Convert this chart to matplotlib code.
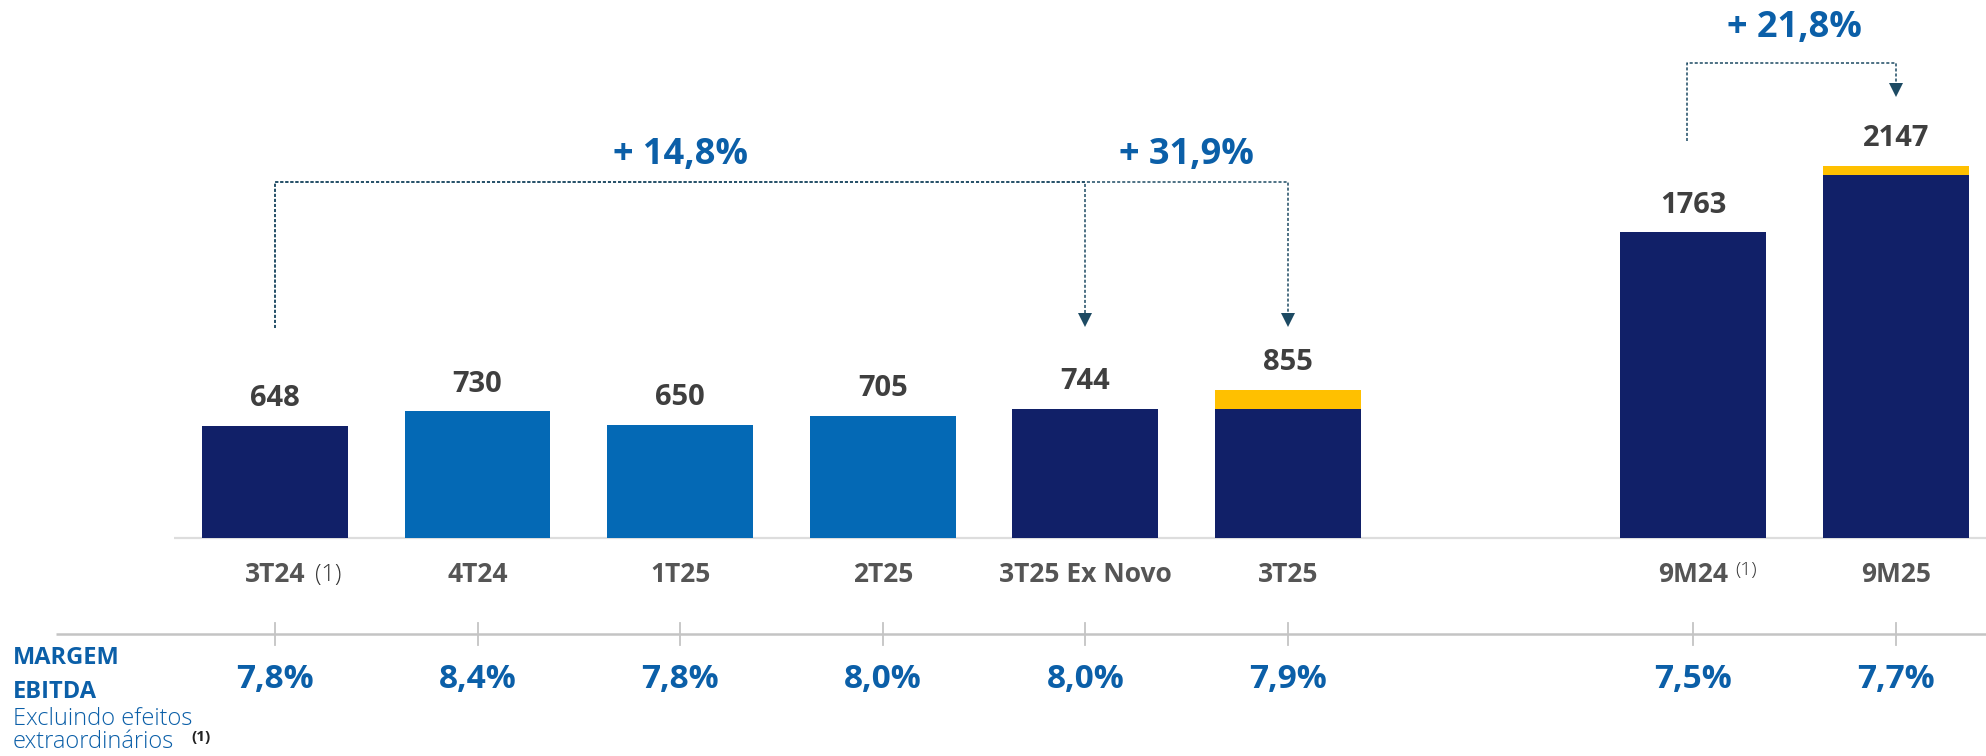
import numpy as np
import matplotlib.pyplot as plt
from matplotlib.transforms import blended_transform_factory

plt.rcParams['font.family'] = ['Open Sans', 'DejaVu Sans']

# EBITDA values
categories = ['3T24', '4T24', '1T25', '2T25', '3T25 Ex Novo', '3T25', '9M24', '9M25']
base_vals = [648, 730, 650, 705, 744, 744, 1763, 2095]
extra_vals = [0, 0, 0, 0, 0, 111, 0, 52]
total_labels = ['648', '730', '650', '705', '744', '855', '1763', '2147']
margins = ['7,8%', '8,4%', '7,8%', '8,0%', '8,0%', '7,9%', '7,5%', '7,7%']
growth = [('+ 14,8%', 0, 4), ('+ 31,9%', 0, 5), ('+ 21,8%', 6, 7)]

navy = '#112068'
blue = '#0469b5'
yellow = '#ffc000'
txt_blue = '#0b5fa8'
val_grey = '#3f3f3f'
cat_grey = '#555555'
line_col = '#1d4a63'
bar_cols = [navy, blue, blue, blue, navy, navy, navy, navy]

# quarters, then a gap, then year-to-date
xpos = np.arange(len(categories)) + np.array([0, 0, 0, 0, 0, 0, 1, 1])

fig = plt.figure(figsize=(19.86, 7.56), dpi=100)
ax = fig.add_axes([0, 0, 1, 1])
ax.set_xlim(-1.357, 8.445)
ax.set_ylim(-1258, 3104)
ax.axis('off')
ax_x = blended_transform_factory(ax.transAxes, ax.transData)

ax.bar(xpos, base_vals, width=0.72, color=bar_cols, zorder=3)
ax.bar(xpos, extra_vals, bottom=base_vals, width=0.72, color=yellow, zorder=3)

tops = np.array(base_vals) + np.array(extra_vals)
for x, t, lab in zip(xpos, tops, total_labels):
    ax.text(x, t + 158, lab, ha='center', va='center', fontsize=21,
            fontweight='bold', color=val_grey)

# baseline of the bars
ax.plot([xpos[0] - 0.5, 8.445], [0, 0], color='#dddddd', lw=1.6, zorder=2,
        solid_capstyle='butt')

# category labels
for x, c in zip(xpos, categories):
    ax.text(x, -213, c, ha='center', va='center', fontsize=19,
            fontweight='bold', color=cat_grey)
    if c == '3T24':
        ax.text(x + 0.2, -213, '(1)', ha='left', va='center', fontsize=17,
                fontweight='light', color='#333333')
    elif c == '9M24':
        ax.text(x + 0.205, -185, '(1)', ha='left', va='center', fontsize=14,
                fontweight='light', color='#333333')

# margin axis with ticks
ax.plot([-1.08, 8.445], [-554, -554], color='#c4c4c4', lw=1.8, solid_capstyle='butt')
for x, m in zip(xpos, margins):
    ax.plot([x, x], [-490, -617], color='#c4c4c4', lw=1.3)
    ax.text(x, -814, m, ha='center', va='center', fontsize=24,
            fontweight='bold', color=txt_blue)

ax.text(0.0065, -692, 'MARGEM', transform=ax_x, ha='left', va='center',
        fontsize=17, fontweight='bold', color=txt_blue)
ax.text(0.0065, -889, 'EBITDA', transform=ax_x, ha='left', va='center',
        fontsize=17, fontweight='bold', color=txt_blue)
ax.text(0.0065, -1044, 'Excluindo efeitos', transform=ax_x, ha='left', va='center',
        fontsize=17, fontweight='light', color=txt_blue)
ax.text(0.0065, -1177, 'extraordinários', transform=ax_x, ha='left', va='center',
        fontsize=17, fontweight='light', color=txt_blue)
ax.text(0.0965, -1150, '(1)', transform=ax_x, ha='left', va='center',
        fontsize=11, fontweight='bold', color='#222222')

# growth brackets
dash = (0, (2, 1.3))
def bracket(x0, x1, y_start, y_top, y_tip):
    ax.plot([x0, x0, x1, x1], [y_start, y_top, y_top, y_tip + 60],
            color=line_col, lw=1.1, linestyle=dash, zorder=4)
    ax.plot([x1], [y_tip + 40], marker='v', markersize=10, color=line_col,
            markeredgewidth=0, zorder=4)

y_top_q = 2054
for lab, a, b in growth[:2]:
    bracket(xpos[a], xpos[b], 1212, y_top_q, 1218)
ax.text((xpos[0] + xpos[4]) / 2, 2210, growth[0][0], ha='center', va='center',
        fontsize=26, fontweight='bold', color=txt_blue)
ax.text((xpos[4] + xpos[5]) / 2, 2210, growth[1][0], ha='center', va='center',
        fontsize=26, fontweight='bold', color=txt_blue)

lab, a, b = growth[2]
bracket(xpos[a] - 0.03, xpos[b], 2291, 2738, 2545)
ax.text((xpos[a] + xpos[b]) / 2, 2943, lab, ha='center', va='center',
        fontsize=26, fontweight='bold', color=txt_blue)

fig.savefig('out.png', dpi=100)
